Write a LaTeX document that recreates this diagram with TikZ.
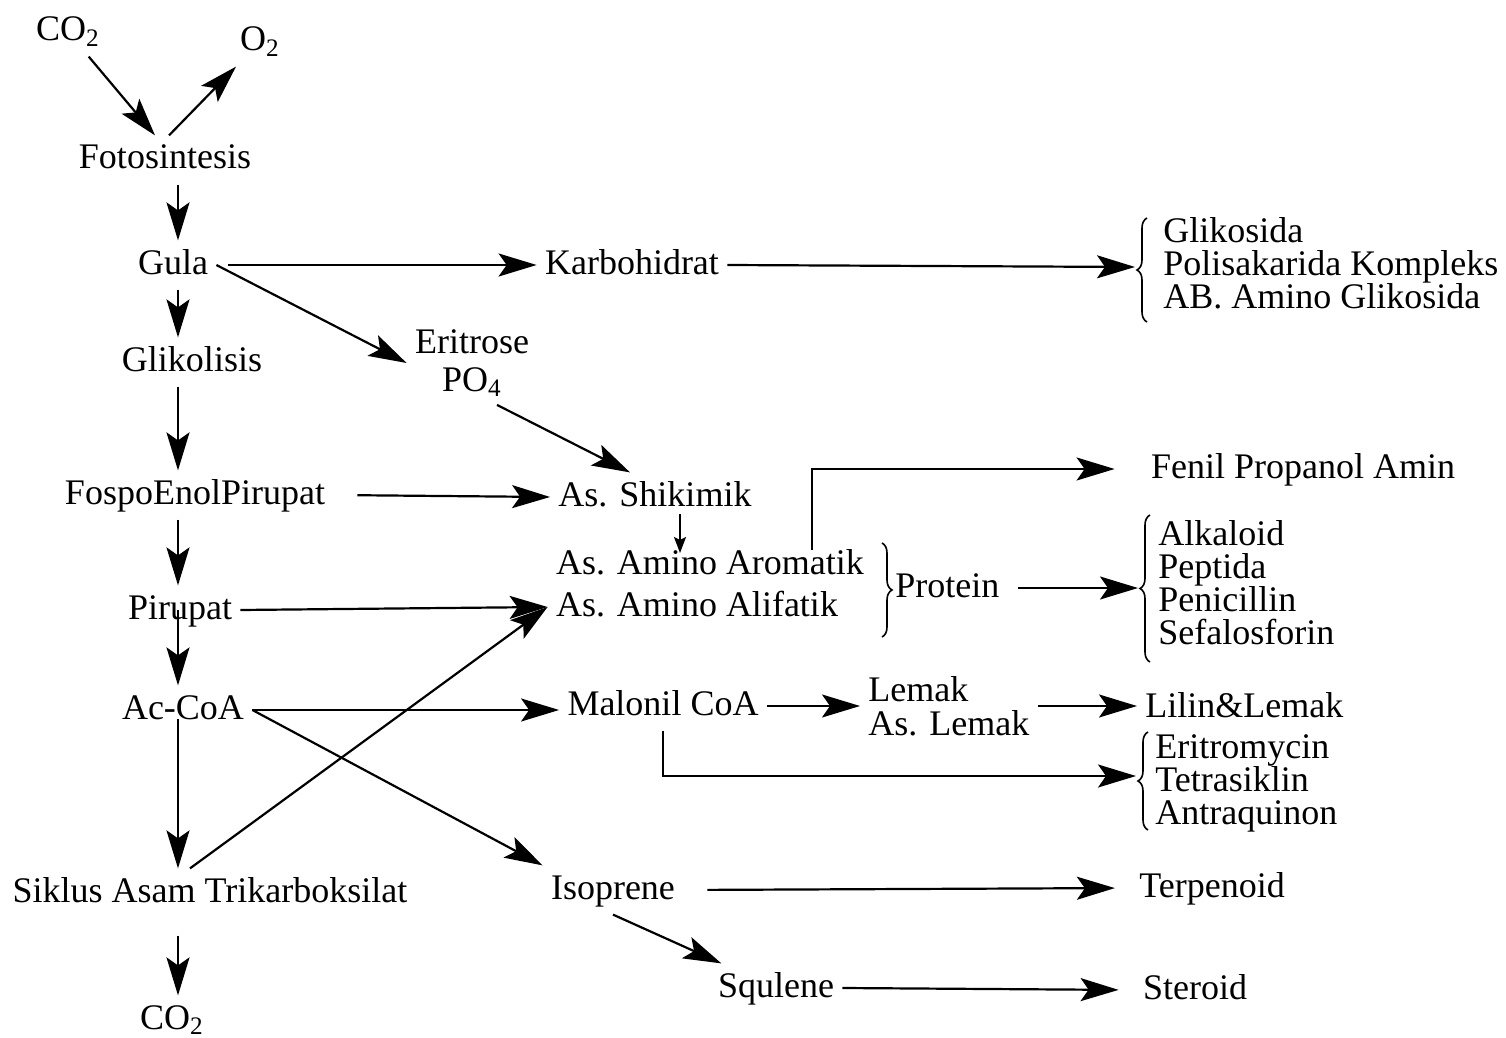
\documentclass[tikz,border=0pt]{standalone}
\usepackage{fontspec}
\setmainfont{Liberation Serif}
\usetikzlibrary{arrows.meta,decorations.pathreplacing,calc}

\begin{document}
\begin{tikzpicture}[x=0.5pt,y=-0.5pt,
  lbl/.style={inner sep=4pt, font=\fontsize{18}{20}\selectfont, text height=12.6pt, text depth=3.6pt},
  grp/.style={inner sep=4pt, align=left, font=\fontsize{18}{16.5}\selectfont},
  arr/.style={line width=1.1pt, -{Stealth[length=19pt,width=11.5pt,inset=4pt]}},
  smallarr/.style={line width=1.1pt, -{Stealth[length=8pt,width=6pt,inset=1.5pt]}},
  brc/.style={line width=0.8pt, decorate, decoration={brace, amplitude=5pt}}]

\useasboundingbox (0,0) rectangle (1506,1038);

% main column
\coordinate (col) at (178,0);
\node[lbl] (co2a) at (68,32) {CO\textsubscript{2}};
\node[lbl] (o2)   at (260,42) {O\textsubscript{2}};
\node[lbl] (foto) at (165,160) {Fotosintesis};
\node[lbl] (gula) at (173,265) {Gula};
\node[lbl] (gli)  at (192,362) {Glikolisis};
\node[lbl] (pep)  at (195,495) {FospoEnolPirupat};
\node[lbl] (pir)  at (180,610) {Pirupat};
\node[lbl] (acoa) at (183,710) {Ac-CoA};
\node[lbl] (sik)  at (210,893) {Siklus Asam Trikarboksilat};
\node[lbl] (co2b) at (172,1020) {CO\textsubscript{2}};

% middle column
\node[lbl] (karbo) at (632,265) {Karbohidrat};
\node[lbl, align=center, font=\fontsize{18}{19}\selectfont, text height=, text depth=] (erit) at (472,363) {Eritrose\\PO\textsubscript{4}};
\node[lbl] (shik) at (655,497) {As. Shikimik};
\node[lbl] (arom) at (710,565) {As. Amino Aromatik};
\node[lbl] (alif) at (697,607) {As. Amino Alifatik};
\node[lbl, anchor=west, inner sep=1pt] (prot) at (893,588) {Protein};
\node[lbl] (mal)  at (663,706) {Malonil CoA};
\node[grp, font=\fontsize{18}{17}\selectfont, anchor=west] (lem) at (860,706) {Lemak\\As. Lemak};
\node[lbl] (iso)  at (613,890) {Isoprene};
\node[lbl] (squ)  at (776,988) {Squlene};

% right column
\node[grp, anchor=west] (glik) at (1155,263) {Glikosida\\Polisakarida Kompleks\\AB. Amino Glikosida};
\node[lbl] (fenil) at (1303,469) {Fenil Propanol Amin};
\node[grp, anchor=west] (alk) at (1150,583) {Alkaloid\\Peptida\\Penicillin\\Sefalosforin};
\node[lbl, anchor=west] (lilin) at (1137,708) {Lilin\&Lemak};
\node[grp, anchor=west] (eritro) at (1147,783) {Eritromycin\\Tetrasiklin\\Antraquinon};
\node[lbl] (terp) at (1212,888) {Terpenoid};
\node[lbl] (ster) at (1195,990) {Steroid};

% braces
\draw[brc] (1147,322) -- (1147,218);
\coordinate (gliktip) at (1135,267);
\draw[brc] (882,543) -- (882,637);
\draw[brc] (1150,662) -- (1150,515);
\coordinate (alktip) at (1138,588);
\draw[brc] (1148,830) -- (1148,732);
\coordinate (eritip) at (1136,776);

% photosynthesis
\draw[arr] (co2a) -- ($(foto.north)+(-10,0)$);
\draw[arr] ($(foto.north)+(4,0)$) -- (o2);

% glycolysis chain
\draw[arr] (foto.south -| col) -- (gula.north -| col);
\draw[arr] (gula.south -| col) -- (gli.north -| col);
\draw[arr] (gli.south -| col) -- (pep.north -| col);
\draw[arr] (pep.south -| col) -- (pir.north -| col);
\draw[arr] (pir.center -| col) -- (acoa.north -| col);
\draw[arr] (acoa.base -| col) -- (sik.north -| col);
\draw[arr, shorten <=9pt] (sik.south -| col) -- (co2b.north -| col);

% carbohydrates and shikimate branch
\draw[arr, shorten <=6pt] (gula.east) -- (karbo.west);
\draw[arr] (karbo.east) -- (gliktip);
\draw[arr] (gula.east) -- (erit.west);
\draw[arr] ($(erit.south)+(25,0)$) -- ($(shik.north)+(-25,0)$);
\draw[arr, shorten <=12pt] (pep.east) -- (shik.west);
\coordinate (shikdn) at (680,514);
\coordinate (aromup) at (680,553);
\draw[smallarr] (shikdn) -- (aromup);

% amino acids and protein
\draw[arr] (pir.east) -- (alif.west);
\draw[arr] ($(sik.north)+(-20,0)$) -- (alif.west);
\coordinate (fenilup) at (812,550);
\coordinate (fenilc) at (812,469);
\draw[arr, shorten >=14pt] (fenilup) -- (fenilc) -- (fenil.west);
\draw[arr, shorten <=8pt] (prot.east) -- (alktip);

% acetate branch
\draw[arr] (acoa.east) -- (acoa.east -| mal.west);
\draw[arr] (mal.east) -- (lem.west);
\draw[arr] (lem.east) -- (lem.east -| lilin.west);
\coordinate (malc) at (663,776);
\draw[arr] (mal.south) -- (malc) -- (eritip);

% isoprenoid branch
\draw[arr] (acoa.east) -- (iso.north west);
\draw[arr, shorten <=12pt, shorten >=8pt] (iso.east) -- (terp.west);
\draw[arr] (iso.south) -- (squ);
\draw[arr, shorten >=8pt] (squ.east) -- (ster.west);

\end{tikzpicture}
\end{document}
